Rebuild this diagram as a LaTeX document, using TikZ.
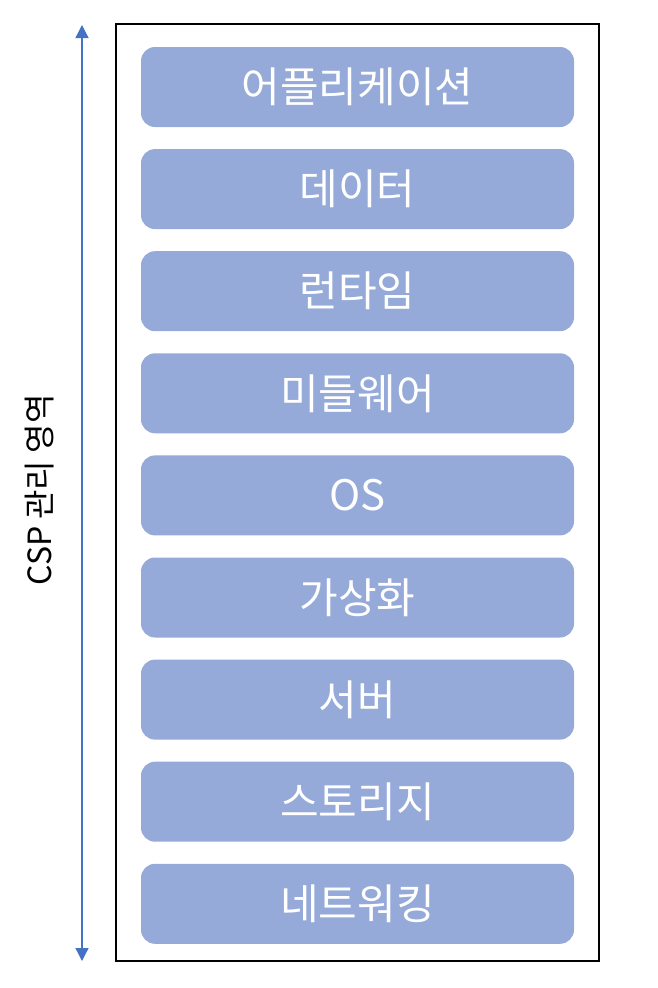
\documentclass[tikz,border=0pt]{standalone}
\usepackage{fontspec}
\newfontfamily\kr{Noto Sans CJK KR}
\usetikzlibrary{arrows.meta}
\definecolor{boxfill}{HTML}{95AAD8}
\definecolor{arrowblue}{HTML}{4472C4}
\tikzset{
  layer/.style={draw=none, fill=boxfill, rounded corners=14pt, minimum width=433pt, minimum height=80pt, text=white, font=\kr\fontsize{42}{46}\selectfont, inner sep=0pt},
  frame/.style={draw=black, line width=2pt},
}
\begin{document}
\begin{tikzpicture}[x=1pt,y=-1pt]
\useasboundingbox (0,0) rectangle (658,988);
\draw[frame] (116,24) rectangle (599,961);
\foreach \t [count=\i from 0] in {어플리케이션,데이터,런타임,미들웨어,OS,가상화,서버,스토리지,네트워킹}{
  \node[layer] (L\i) at (357.5, 87+102.1*\i) {\t};
}
\coordinate (top) at (82,25);
\coordinate (bot) at (82,961);
\draw[arrowblue, line width=1.2pt, {Triangle[width=13pt,length=13pt]}-{Triangle[width=13pt,length=13pt]}] (top) -- (bot);
\node[rotate=90, font=\kr\fontsize{32}{36}\selectfont] (lab) at (40,490) {CSP 관리 영역};
\end{tikzpicture}
\end{document}
